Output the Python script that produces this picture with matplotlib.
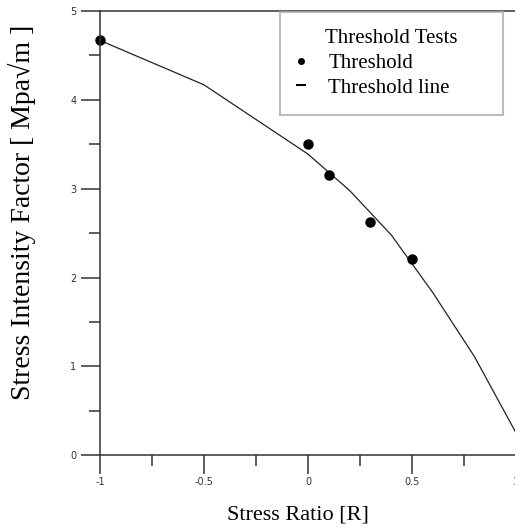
import matplotlib
matplotlib.use("Agg")
import matplotlib.pyplot as plt
from matplotlib.lines import Line2D
from matplotlib.ticker import MultipleLocator

# measured threshold values
test_r = [-1.0, 0.0, 0.1, 0.3, 0.5]
test_k = [4.67, 3.50, 3.15, 2.63, 2.21]

# threshold line
line_r = [-1.0, -0.5, 0.0, 0.2, 0.4, 0.6, 0.8, 1.0]
line_k = [4.67, 4.17, 3.39, 2.98, 2.48, 1.83, 1.11, 0.25]

xticks = [-1, -0.5, 0, 0.5, 1]
xticklabels = ["-1", "-0.5", "0", "0.5", "1"]
yticks = [0, 1, 2, 3, 4, 5]

serif = "Liberation Serif"
spine_col = "#333333"

fig = plt.figure(figsize=(5.15, 5.28), dpi=100)
ax = fig.add_axes([0.194, 0.138, 0.808, 0.841])

ax.plot(line_r, line_k, color="#222222", lw=0.9)
ax.plot(test_r, test_k, "o", color="black", ms=6.5, clip_on=False)

ax.set_xlim(-1, 1)
ax.set_ylim(0, 5)
ax.set_xticks(xticks)
ax.set_xticklabels(xticklabels)
ax.set_yticks(yticks)
ax.xaxis.set_minor_locator(MultipleLocator(0.25))
ax.yaxis.set_minor_locator(MultipleLocator(0.5))
ax.tick_params(which="major", length=14, width=1.1, color=spine_col,
               labelsize=7, labelcolor="#333333")
ax.tick_params(axis="y", which="major", pad=3)
ax.tick_params(axis="x", which="major", pad=2)
ax.tick_params(which="minor", length=8, width=1.1, color=spine_col)

for s in ["left", "bottom", "top"]:
    ax.spines[s].set_color(spine_col)
    ax.spines[s].set_linewidth(1.1)
ax.spines["right"].set_visible(False)

ax.set_xlabel("Stress Ratio [R]", fontfamily=serif, fontsize=16)
ax.xaxis.set_label_coords(0.476, -0.114)
ax.set_ylabel("Stress Intensity Factor [ Mpa\u221am ]", fontfamily=serif,
              fontsize=20)
ax.yaxis.set_label_coords(-0.154, 0.547)

handles = [
    Line2D([], [], marker="o", color="black", ms=4, ls="none"),
    Line2D([], [], color="black", lw=1.5),
]
x0, x1 = 280 / 515, 503 / 515
y_top = 1 - 12 / 528
leg = ax.legend(handles, ["Threshold", "Threshold line"], title="Threshold Tests",
                loc="upper left", bbox_to_anchor=(x0, y_top - 0.2, x1 - x0, 0.2),
                bbox_transform=fig.transFigure, mode="expand", frameon=True,
                fancybox=False, handlelength=0.4, handletextpad=1.1,
                borderpad=0.82, borderaxespad=0, labelspacing=0.25,
                prop={"family": serif, "size": 15})
leg.get_title().set_fontfamily(serif)
leg.get_title().set_fontsize(15)
leg.get_frame().set_edgecolor("#aaaaaa")
leg.get_frame().set_linewidth(1.5)

fig.savefig("out.png", dpi=100)
